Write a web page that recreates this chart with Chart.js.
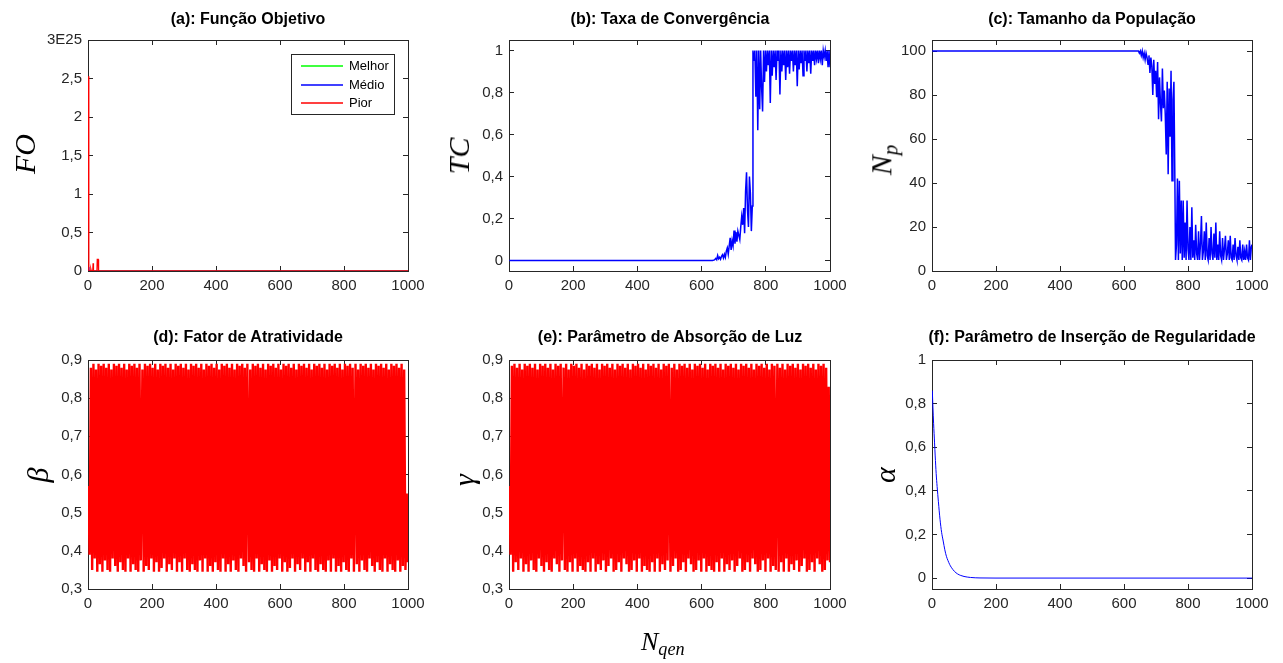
<!DOCTYPE html>
<html><head><meta charset="utf-8">
<script src="https://cdn.jsdelivr.net/npm/chart.js@4.4.0/dist/chart.umd.min.js"></script>
<style>
html,body{margin:0;padding:0;background:#fff;width:1283px;height:663px;overflow:hidden;}
.box{position:absolute;left:0;top:0;width:1283px;height:663px;}
.ttl{position:absolute;font:bold 16px "Liberation Sans",Arial,sans-serif;color:#000;white-space:nowrap;transform:translate(-50%,-50%);line-height:1;}
.yl{position:absolute;font:italic 30px "Liberation Serif",serif;color:#000;white-space:nowrap;transform:translate(-50%,-50%) rotate(-90deg);line-height:1;}
.yl sub{font-size:0.7em;vertical-align:-0.3em;}
.xl{position:absolute;font:italic 26px "Liberation Serif",serif;color:#000;white-space:nowrap;line-height:1;}
.xl sub{font-size:0.7em;vertical-align:-0.3em;}
</style></head><body>
<div class="box"><canvas id="ca" width="1283" height="663"></canvas></div>
<div class="box"><canvas id="cb" width="1283" height="663"></canvas></div>
<div class="box"><canvas id="cc" width="1283" height="663"></canvas></div>
<div class="box"><canvas id="cd" width="1283" height="663"></canvas></div>
<div class="box"><canvas id="ce" width="1283" height="663"></canvas></div>
<div class="box"><canvas id="cf" width="1283" height="663"></canvas></div>

<div class="ttl" style="left:248px;top:19px">(a): Função Objetivo</div>
<div class="ttl" style="left:670px;top:19px">(b): Taxa de Convergência</div>
<div class="ttl" style="left:1092px;top:19px">(c): Tamanho da População</div>
<div class="ttl" style="left:248px;top:337px">(d): Fator de Atratividade</div>
<div class="ttl" style="left:670px;top:337px">(e): Parâmetro de Absorção de Luz</div>
<div class="ttl" style="left:1092px;top:337px">(f): Parâmetro de Inserção de Regularidade</div>

<div class="yl" style="left:25px;top:154px">FO</div>
<div class="yl" style="left:459px;top:156px">TC</div>
<div class="yl" style="left:884px;top:160px">N<sub>p</sub></div>
<div class="yl" style="left:38px;top:475px">β</div>
<div class="yl" style="left:464px;top:480px">γ</div>
<div class="yl" style="left:885px;top:475px">α</div>
<div class="xl" style="left:641px;top:629px">N<sub>qen</sub></div>

<script>
// ---------- data ----------
const xTicks = [0, 200, 400, 600, 800, 1000];
const foTicks = [0, 0.5, 1, 1.5, 2, 2.5, 3];
const tcTicks = [0, 0.2, 0.4, 0.6, 0.8, 1];
const npTicks = [0, 20, 40, 60, 80, 100];
const parTicks = [0.3, 0.4, 0.5, 0.6, 0.7, 0.8, 0.9];
const alphaTicks = [0, 0.2, 0.4, 0.6, 0.8, 1];

// (a) objective function (units of 1E25)
const foGen    = [1, 2, 3, 5, 8, 9, 10, 15, 16, 17, 28, 29, 32, 33, 1000];
const foMelhor = [0, 0, 0, 0, 0, 0, 0, 0, 0, 0, 0, 0, 0, 0, 0];
const foMedio  = [0.05, 0.004, 0.001, 0, 0, 0, 0, 0, 0.002, 0, 0, 0.003, 0.003, 0, 0];
const foPior   = [2.53, 0.05, 0.01, 0, 0, 0.02, 0, 0, 0.1, 0, 0, 0.15, 0.15, 0, 0];

// (b) convergence rate
const tcGen = [1,634,640,644,647,650,653,656,659,662,
  665,668,671,674,677,680,683,686,689,692,
  695,698,701,704,707,710,713,716,719,722,
  725,728,731,734,737,740,743,746,749,752,
  755,758,
  760,763,766,769,772,775,778,781,784,787,
  790,793,796,799,802,805,808,811,814,817,
  820,823,826,829,832,835,838,841,844,847,
  850,853,856,859,862,865,868,871,874,877,
  880,883,886,889,892,895,898,901,904,907,
  910,913,916,919,922,925,928,931,934,937,
  940,943,946,949,952,955,958,961,964,967,
  970,973,976,979,982,985,988,991,994,997,
  1000];
const tcVal = [0,0,0.003,0.01,0.004,0.024,0.008,0.015,0.006,0.02,
  0.027,0.012,0.03,0.015,0.045,0.06,0.03,0.07,0.108,0.05,
  0.095,0.07,0.143,0.08,0.135,0.09,0.14,0.12,0.1,0.16,
  0.21,0.17,0.25,0.13,0.33,0.42,0.24,0.16,0.4,0.32,
  0.14,0.26,
  1,0.95,1,0.78,1,0.62,1,0.72,1,0.82,
  0.71,1,0.85,1,0.9,1,0.93,1,0.75,1,
  0.88,1,0.92,1,0.86,1,0.95,1,0.79,1,
  0.9,1,0.93,1,0.86,1,0.92,1,0.89,1,
  0.95,1,0.9,1,0.93,1,0.83,1,0.91,1,
  0.94,1,0.88,1,0.95,1,0.9,1,0.94,1,
  0.89,1,0.95,1,0.93,1,0.96,1,0.94,1,
  0.96,1,0.93,1,0.97,1,0.95,1,0.92,1,
  0.92];

// (c) population size
const npGen = [1,645,648,651,654,657,660,663,666,669,
  672,675,678,681,684,687,690,693,696,699,
  702,705,708,711,714,717,720,723,726,729,
  732,735,738,741,744,747,750,753,756,759,
  761,764,767,770,773,776,779,782,785,788,
  791,794,797,800,803,806,809,812,815,818,
  821,824,827,830,833,836,839,842,845,848,
  851,854,857,860,863,866,869,872,875,878,
  881,884,887,890,893,896,899,902,905,908,
  911,914,917,920,923,926,929,932,935,938,
  941,944,947,950,953,956,959,962,965,968,
  971,974,977,980,983,986,989,992,995,998,
  1000];
const npVal = [100,100,99,100,98,100,97,99,96,99,
  97,94,98,90,97,93,80,96,85,91,
  79,95,69,88,76,68,92,74,82,71,
  53,86,44,83,61,91,41,78,86,41,
  5,12,42,5,41,8,32,5,32,6,
  22,5,32,10,5,20,5,29,6,14,
  5,21,8,5,18,5,12,25,5,9,
  18,5,22,7,5,15,5,20,8,5,
  17,6,22,5,12,5,18,7,5,15,
  5,10,16,5,8,14,5,16,6,5,
  12,5,15,7,5,11,5,14,6,5,
  12,5,9,5,12,6,5,14,5,11,
  12];

// (d) attractiveness factor and (e) light absorption, sampled about every 4 generations
const oscGen = Array.from({length: 250}, (_, i) => Math.round(1 + i * 999 / 249));
const betaVal = [0.57,0.39,0.88,0.35,0.89,0.38,0.875,0.345,0.89,0.365,
  0.885,0.345,0.89,0.375,0.88,0.35,0.89,0.345,0.875,0.38,
  0.89,0.36,0.885,0.345,0.89,0.37,0.88,0.35,0.89,0.345,
  0.875,0.38,0.89,0.345,0.885,0.365,0.89,0.35,0.88,0.345,
  0.89,0.375,0.875,0.345,0.89,0.36,0.885,0.35,0.89,0.38,
  0.88,0.345,0.89,0.37,0.875,0.345,0.89,0.355,0.885,0.38,
  0.89,0.345,0.88,0.365,0.89,0.35,0.875,0.38,0.89,0.345,
  0.885,0.37,0.89,0.345,0.88,0.38,0.89,0.35,0.875,0.345,
  0.89,0.365,0.885,0.35,0.89,0.345,0.88,0.375,0.89,0.345,
  0.875,0.38,0.89,0.345,0.885,0.36,0.89,0.345,0.88,0.37,
  0.89,0.35,0.875,0.345,0.89,0.38,0.885,0.345,0.89,0.365,
  0.88,0.345,0.89,0.375,0.875,0.35,0.89,0.345,0.885,0.38,
  0.89,0.36,0.88,0.345,0.89,0.37,0.875,0.35,0.89,0.345,
  0.885,0.38,0.89,0.345,0.88,0.365,0.89,0.35,0.875,0.345,
  0.89,0.375,0.885,0.345,0.89,0.36,0.88,0.35,0.89,0.38,
  0.875,0.345,0.89,0.37,0.885,0.345,0.89,0.355,0.88,0.38,
  0.89,0.345,0.875,0.365,0.89,0.35,0.885,0.38,0.89,0.345,
  0.88,0.37,0.89,0.345,0.875,0.38,0.89,0.35,0.885,0.345,
  0.89,0.365,0.88,0.35,0.89,0.345,0.875,0.375,0.89,0.345,
  0.885,0.38,0.89,0.345,0.88,0.36,0.89,0.345,0.875,0.37,
  0.89,0.35,0.885,0.345,0.89,0.38,0.88,0.345,0.89,0.365,
  0.875,0.345,0.89,0.375,0.885,0.35,0.89,0.345,0.88,0.38,
  0.89,0.36,0.875,0.345,0.89,0.37,0.885,0.35,0.89,0.345,
  0.88,0.38,0.89,0.345,0.875,0.365,0.89,0.35,0.885,0.345,
  0.89,0.375,0.88,0.345,0.89,0.36,0.875,0.35,0.55,0.37];
const gammaVal = [0.57,0.39,0.885,0.345,0.89,0.37,0.88,0.35,0.89,0.38,
  0.875,0.345,0.89,0.365,0.885,0.345,0.89,0.375,0.88,0.35,
  0.89,0.345,0.875,0.38,0.89,0.36,0.885,0.345,0.89,0.37,
  0.88,0.35,0.89,0.345,0.875,0.38,0.89,0.365,0.885,0.345,
  0.89,0.375,0.88,0.35,0.89,0.345,0.875,0.37,0.89,0.345,
  0.885,0.38,0.89,0.345,0.88,0.36,0.89,0.35,0.875,0.345,
  0.89,0.37,0.885,0.345,0.89,0.38,0.88,0.345,0.89,0.365,
  0.875,0.35,0.89,0.375,0.885,0.345,0.89,0.36,0.88,0.38,
  0.89,0.345,0.875,0.35,0.89,0.37,0.885,0.345,0.89,0.38,
  0.88,0.365,0.89,0.345,0.875,0.35,0.89,0.375,0.885,0.345,
  0.89,0.38,0.88,0.345,0.89,0.36,0.875,0.35,0.89,0.345,
  0.885,0.37,0.89,0.345,0.88,0.38,0.89,0.345,0.875,0.365,
  0.89,0.35,0.885,0.375,0.89,0.345,0.88,0.36,0.89,0.38,
  0.875,0.345,0.89,0.35,0.885,0.37,0.89,0.345,0.88,0.38,
  0.89,0.365,0.875,0.345,0.89,0.35,0.885,0.375,0.89,0.345,
  0.88,0.38,0.89,0.345,0.875,0.36,0.89,0.35,0.885,0.345,
  0.89,0.37,0.88,0.345,0.89,0.38,0.875,0.345,0.89,0.365,
  0.885,0.35,0.89,0.375,0.88,0.345,0.89,0.36,0.875,0.38,
  0.89,0.345,0.885,0.35,0.89,0.37,0.88,0.345,0.89,0.38,
  0.875,0.365,0.89,0.345,0.885,0.35,0.89,0.375,0.88,0.345,
  0.89,0.38,0.875,0.345,0.89,0.36,0.885,0.35,0.89,0.345,
  0.88,0.37,0.89,0.345,0.875,0.38,0.89,0.345,0.885,0.365,
  0.89,0.35,0.88,0.375,0.89,0.345,0.875,0.36,0.89,0.38,
  0.885,0.345,0.89,0.35,0.88,0.37,0.89,0.345,0.875,0.38,
  0.89,0.365,0.885,0.345,0.89,0.35,0.88,0.375,0.83,0.37];

// (f) regularity insertion parameter
const alphaGen = [1,3,5,8,10,13,16,20,25,30,35,40,45,50,55,60,70,80,90,100,120,150,200,1000];
const alphaVal = [0.86,0.78,0.71,0.62,0.56,0.48,0.42,0.35,0.27,0.21,0.17,0.13,0.10,0.08,0.063,0.05,0.031,0.019,0.012,0.0075,0.003,0.0007,0.0001,0];

// ---------- chart building ----------
const W = 1283, H = 663, YW = 50, XH = 30;
const AX = '#262626';
const TICKFONT = {family: "'Liberation Sans', Arial, sans-serif", size: 15};
const pts = (xs, ys) => xs.map((x, i) => ({x: x, y: ys[i]}));
const comma = v => String(+Number(v).toFixed(2)).replace('.', ',');

function axis(pos, min, max, tickVals, showLabels, fmt, fitSize) {
  const horizontal = (pos === 'top' || pos === 'bottom');
  return {
    type: 'linear', position: pos, min: min, max: max,
    afterBuildTicks: s => { s.ticks = tickVals.map(v => ({value: v})); },
    afterFit: s => { if (horizontal) s.height = fitSize; else s.width = fitSize; },
    border: {display: true, color: AX, width: 1},
    grid: {display: true, drawOnChartArea: false, drawTicks: true, tickLength: -5, color: AX, tickColor: AX, tickWidth: 1},
    ticks: {display: showLabels, color: AX, font: TICKFONT, padding: 11, maxRotation: 0, autoSkip: false,
            callback: v => fmt(v)}
  };
}

function panel(id, area, yMin, yMax, yTicks, yFmt, datasets, plugins) {
  return new Chart(document.getElementById(id), {
    type: 'line',
    data: {datasets: datasets},
    options: {
      responsive: false, animation: false, devicePixelRatio: 1,
      layout: {padding: {left: area.l - YW, top: area.t, right: W - area.r, bottom: H - area.b - XH}},
      plugins: {legend: {display: false}, tooltip: {enabled: false}, title: {display: false}},
      elements: {point: {radius: 0}, line: {borderWidth: 1, tension: 0}},
      scales: {
        x: axis('bottom', 0, 1000, xTicks, true, v => String(v), XH),
        x2: axis('top', 0, 1000, xTicks, false, v => '', 0),
        y: axis('left', yMin, yMax, yTicks, true, yFmt, YW),
        y2: axis('right', yMin, yMax, yTicks, false, v => '', 0)
      }
    },
    plugins: plugins || []
  });
}

const legendColors = ['#00ff00', '#0000ff', '#ff0000'];
const boxLegend = {
  id: 'boxLegend',
  afterDraw(chart) {
    const ctx = chart.ctx, ca = chart.chartArea;
    const w = 103, h = 60;
    const x0 = Math.round(ca.right - 14 - w), y0 = Math.round(ca.top + 14);
    ctx.save();
    ctx.fillStyle = '#ffffff';
    ctx.fillRect(x0, y0, w, h);
    ctx.strokeStyle = AX; ctx.lineWidth = 1;
    ctx.strokeRect(x0 + 0.5, y0 + 0.5, w, h);
    ctx.font = "13px 'Liberation Sans', Arial, sans-serif";
    ctx.textBaseline = 'middle'; ctx.textAlign = 'left';
    chart.data.datasets.forEach((ds, i) => {
      const y = Math.round(y0 + 12 + i * 18.5);
      ctx.strokeStyle = legendColors[i]; ctx.lineWidth = 1.5;
      ctx.beginPath(); ctx.moveTo(x0 + 10, y); ctx.lineTo(x0 + 52, y); ctx.stroke();
      ctx.fillStyle = '#000000';
      ctx.fillText(ds.label, x0 + 58, y);
    });
    ctx.restore();
  }
};

panel('ca', {l: 88, r: 408, t: 40, b: 271}, 0, 3, foTicks,
  v => (v === 3 ? '3E25' : comma(v)),
  [
    {label: 'Melhor', data: pts(foGen, foMelhor), borderColor: legendColors[0], order: 3},
    {label: 'Médio', data: pts(foGen, foMedio), borderColor: legendColors[1], order: 2},
    {label: 'Pior', data: pts(foGen, foPior), borderColor: legendColors[2], order: 1, borderWidth: 1.3}
  ], [boxLegend]);

panel('cb', {l: 509, r: 830, t: 40, b: 271}, -0.05, 1.05, tcTicks, comma,
  [{label: 'TC', data: pts(tcGen, tcVal), borderColor: '#0000ff', borderWidth: 1.5}]);

panel('cc', {l: 932, r: 1252, t: 40, b: 271}, 0, 105, npTicks, comma,
  [{label: 'Np', data: pts(npGen, npVal), borderColor: '#0000ff', borderWidth: 1.5}]);

panel('cd', {l: 88, r: 408, t: 360, b: 589}, 0.3, 0.9, parTicks, comma,
  [{label: 'beta', data: pts(oscGen, betaVal), borderColor: '#ff0000', borderWidth: 2.4, borderJoinStyle: 'bevel'}]);

panel('ce', {l: 509, r: 830, t: 360, b: 589}, 0.3, 0.9, parTicks, comma,
  [{label: 'gamma', data: pts(oscGen, gammaVal), borderColor: '#ff0000', borderWidth: 2.4, borderJoinStyle: 'bevel'}]);

panel('cf', {l: 932, r: 1252, t: 360, b: 589}, -0.05, 1, alphaTicks, comma,
  [{label: 'alpha', data: pts(alphaGen, alphaVal), borderColor: '#0000ff', cubicInterpolationMode: 'monotone'}]);
</script>
</body></html>
